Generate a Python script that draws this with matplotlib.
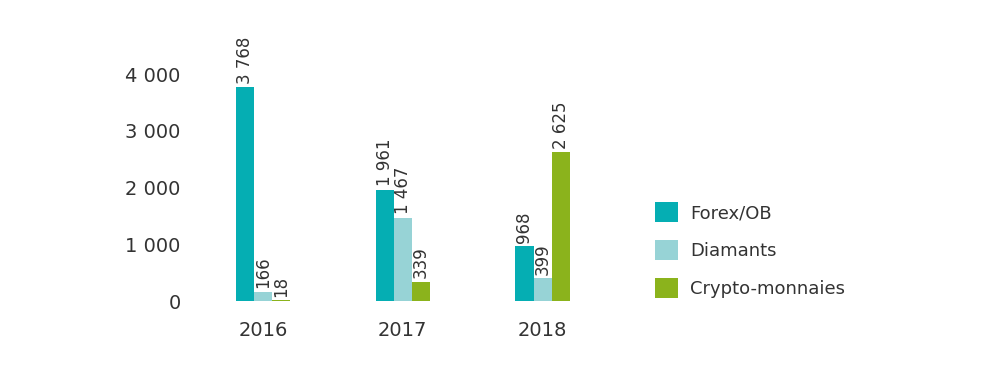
import matplotlib.pyplot as plt
import numpy as np

annees = ['2016', '2017', '2018']
series = ['Forex/OB', 'Diamants', 'Crypto-monnaies']
forex = [3768, 1961, 968]
diamants = [166, 1467, 399]
crypto = [18, 339, 2625]
yticks = [0, 1000, 2000, 3000, 4000]

couleurs = ['#05AEB3', '#97D3D6', '#8BB31C']
texte = '#333333'

def fmt(v):
    return '{:,}'.format(v).replace(',', ' ')

plt.rcParams['font.family'] = ['DejaVu Sans']

fig = plt.figure(figsize=(10, 3.65), dpi=100)
ax = fig.add_axes([0.20, 0.175, 0.40, 0.684])

x = np.arange(len(annees))
w = 0.13
handles = []
for i, (vals, c, nom) in enumerate(zip([forex, diamants, crypto], couleurs, series)):
    pos = x + (i - 1) * w
    b = ax.bar(pos, vals, width=w, color=c, label=nom)
    handles.append(b)
    for p, v in zip(pos, vals):
        ax.text(p, v + 60, fmt(v), rotation=90, ha='center', va='bottom',
                fontsize=12, color=texte, clip_on=False)

ax.set_xlim(-0.45, 2.41)
ax.set_ylim(0, 4400)
ax.set_xticks(x)
ax.set_xticklabels(annees, fontsize=14, color=texte)
ax.set_yticks(yticks)
ax.set_yticklabels([fmt(v) for v in yticks], fontsize=14, color=texte)
ax.tick_params(length=0)
ax.tick_params(axis='x', pad=14)
ax.tick_params(axis='y', pad=14)
for s in ax.spines.values():
    s.set_visible(False)

fig.legend(handles=handles, loc='upper left', bbox_to_anchor=(0.655, 0.446),
           bbox_transform=fig.transFigure, frameon=False, fontsize=13,
           handlelength=1.3, handleheight=1.3, labelspacing=1.0,
           handletextpad=0.65, borderpad=0, borderaxespad=0, labelcolor=texte)

plt.savefig('out.png')
